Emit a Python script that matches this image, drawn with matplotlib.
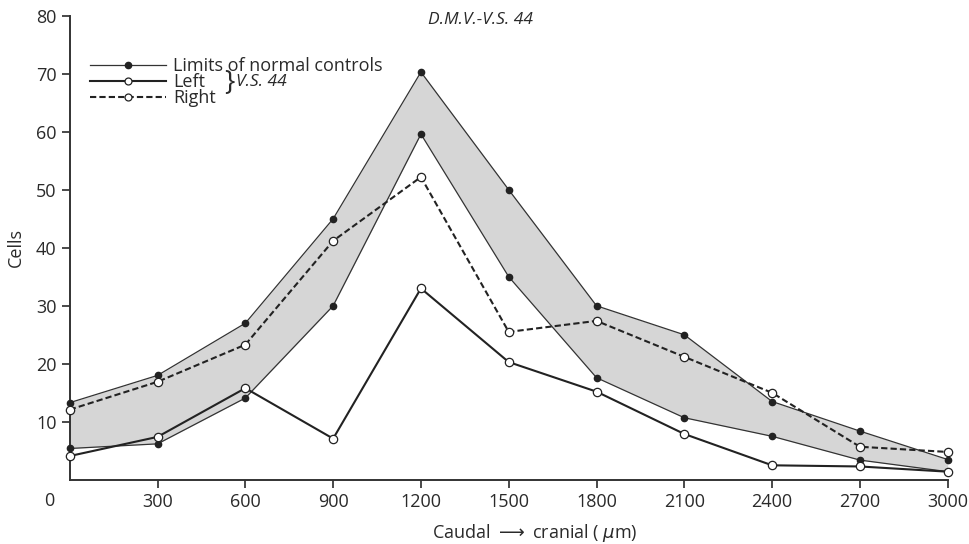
import numpy as np
import matplotlib
matplotlib.use('Agg')
from matplotlib import pyplot as plt
from matplotlib.lines import Line2D

plt.rcParams['font.family'] = ['Open Sans', 'DejaVu Sans']

# distance along nucleus (um)
dist = [0, 300, 600, 900, 1200, 1500, 1800, 2100, 2400, 2700, 3000]
# limits of normal controls
upper = [13.3, 18.0, 27.0, 45.0, 70.3, 50.0, 30.0, 25.0, 13.5, 8.4, 3.5]
lower = [5.4, 6.2, 14.1, 30.0, 59.6, 35.0, 17.6, 10.7, 7.5, 3.4, 1.4]
# V.S. 44
left = [4.1, 7.4, 15.8, 7.1, 33.0, 20.3, 15.2, 7.9, 2.5, 2.3, 1.4]
right = [12.1, 16.9, 23.3, 41.2, 52.2, 25.5, 27.4, 21.2, 15.0, 5.7, 4.8]

ink = '#222222'
txt = '#2a2a2a'

fig = plt.figure(figsize=(9.69, 5.44), dpi=100)
ax = fig.add_axes([0.072, 0.118, 0.906, 0.853])

ax.fill_between(dist, lower, upper, color='#d6d6d6', lw=0, zorder=1)
ax.plot(dist, upper, color='#333333', lw=0.9, marker='o', ms=4.5, mfc=ink, mec=ink, zorder=3, clip_on=False)
ax.plot(dist, lower, color='#333333', lw=0.9, marker='o', ms=4.5, mfc=ink, mec=ink, zorder=3, clip_on=False)
ax.plot(dist, left, color=ink, lw=1.5, marker='o', ms=6, mfc='white', mec=ink, mew=0.9, zorder=4, clip_on=False)
ax.plot(dist, right, color=ink, lw=1.5, ls=(0, (3, 1.5)), marker='o', ms=6, mfc='white', mec=ink, mew=0.9, zorder=4, clip_on=False)

ax.set_xlim(0, 3000)
ax.set_ylim(0, 80)
ax.set_xticks(dist[1:])
ax.set_yticks(np.arange(10, 81, 10))
ax.tick_params(labelsize=13, colors=txt, length=6, width=1.2, direction='out')
for s in ['top', 'right']:
    ax.spines[s].set_visible(False)
for s in ['left', 'bottom']:
    ax.spines[s].set_linewidth(1.4)
    ax.spines[s].set_color('#333333')
ax.text(-0.018, -0.045, '0', transform=ax.transAxes, ha='right', va='center', fontsize=13, color=txt)

ax.set_ylabel('Cells', fontsize=13, color=txt, labelpad=8)
ax.set_xlabel('Caudal $\\longrightarrow$ cranial ( $\\mu$m)', fontsize=13, color=txt, labelpad=8)
ax.xaxis.set_label_coords(0.53, -0.09)
ax.set_title('D.M.V.-V.S. 44', fontsize=12.5, style='italic', color=txt, x=0.468, y=0.965)

handles = [
    Line2D([], [], color='#333333', lw=0.9, marker='o', ms=4.5, mfc=ink, mec=ink),
    Line2D([], [], color=ink, lw=1.5, marker='o', ms=5, mfc='white', mec=ink, mew=0.9),
    Line2D([], [], color=ink, lw=1.5, ls=(0, (3, 1.5)), marker='o', ms=5, mfc='white', mec=ink, mew=0.9),
]
labels = ['Limits of normal controls', 'Left', 'Right']
leg = ax.legend(handles, labels, loc='upper left', bbox_to_anchor=(0.013, 0.93), frameon=False,
                fontsize=13, labelspacing=-0.12, handlelength=4.2, handletextpad=0.4, numpoints=1,
                borderpad=0)
for t in leg.get_texts():
    t.set_color(txt)
ax.text(0.176, 0.855, '}', transform=ax.transAxes, fontsize=20, color=txt, va='center', ha='left')
ax.text(0.189, 0.857, 'V.S. 44', transform=ax.transAxes, fontsize=12.5, style='italic', color=txt, va='center', ha='left')

fig.savefig('out.png', dpi=100)
